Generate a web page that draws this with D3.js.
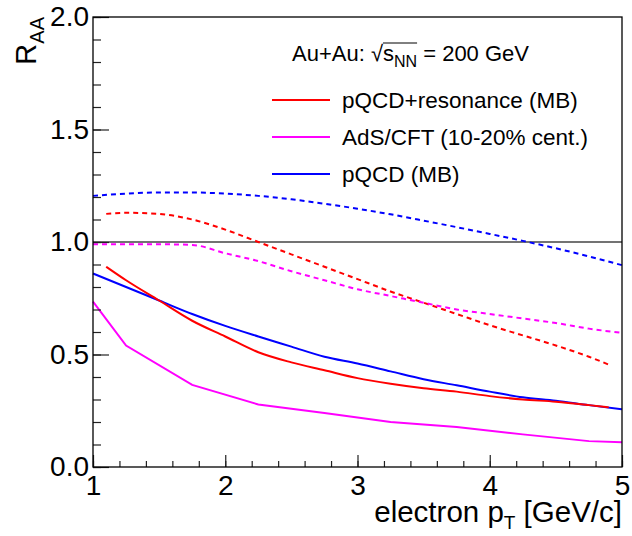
<!DOCTYPE html>
<html>
<head>
<meta charset="utf-8">
<script src="https://cdn.jsdelivr.net/npm/d3@7"></script>
<style>
  html, body { margin: 0; padding: 0; background: #fff; overflow: hidden; }
  svg { display: block; font-family: "Liberation Sans", Arial, sans-serif; }
</style>
</head>
<body>
<div id="chart"></div>
<script>
// Data
const ptGrid = [1, 1.25, 1.5, 1.75, 2, 2.25, 2.5, 2.75, 3, 3.25, 3.5, 3.75, 4, 4.25, 4.5, 4.75, 5];
const ptRes = [1.1, 1.25, 1.5, 1.75, 2, 2.25, 2.5, 2.75, 3, 3.25, 3.5, 3.75, 4, 4.25, 4.5, 4.75, 4.9];
const ptAds = [1, 1.25, 1.75, 2.25, 2.75, 3.25, 3.75, 4.25, 4.75, 5];

const resSolid = [0.89, 0.83, 0.74, 0.65, 0.58, 0.51, 0.465, 0.43, 0.395, 0.37, 0.35, 0.335, 0.315, 0.30, 0.29, 0.275, 0.265];
const resDashed = [1.125, 1.13, 1.125, 1.10, 1.055, 1.0, 0.945, 0.89, 0.835, 0.78, 0.73, 0.68, 0.63, 0.585, 0.54, 0.49, 0.455];
const adsSolid = [0.735, 0.54, 0.365, 0.278, 0.24, 0.20, 0.178, 0.145, 0.115, 0.11];
const adsDashed = [0.99, 0.99, 0.99, 0.987, 0.95, 0.915, 0.87, 0.83, 0.79, 0.76, 0.73, 0.70, 0.68, 0.66, 0.64, 0.615, 0.596];
const pqcdSolid = [0.86, 0.80, 0.74, 0.68, 0.627, 0.58, 0.535, 0.49, 0.46, 0.425, 0.39, 0.363, 0.335, 0.31, 0.295, 0.275, 0.257];
const pqcdDashed = [1.205, 1.215, 1.22, 1.22, 1.215, 1.205, 1.19, 1.17, 1.148, 1.123, 1.095, 1.066, 1.036, 1.005, 0.972, 0.936, 0.897];

const legendLabels = ["pQCD+resonance (MB)", "AdS/CFT (10-20% cent.)", "pQCD (MB)"];
const xTicks = [1, 2, 3, 4, 5];
const yTicks = [0, 0.5, 1, 1.5, 2];

// ------ Drawing area ------- //
const width = 632;
const height = 536;
const margin = {top: 17, right: 10, bottom: 69, left: 93};
const innerWidth = width - margin.left - margin.right;
const innerHeight = height - margin.top - margin.bottom;

const svg = d3.select("#chart")
  .append("svg")
  .attr("width", width)
  .attr("height", height);
const inner = svg.append("g")
  .attr("transform", `translate(${margin.left}, ${margin.top})`);

// ------ Scales ------- //
const xScale = d3.scaleLinear().domain([1, 5]).range([0, innerWidth]);
const yScale = d3.scaleLinear().domain([0, 2]).range([innerHeight, 0]);

const red = "#ff0000";
const magenta = "#ff00ff";
const blue = "#0000ff";

// Reference line at R_AA = 1
inner.append("line")
  .attr("x1", 0).attr("x2", innerWidth)
  .attr("y1", yScale(1)).attr("y2", yScale(1))
  .attr("stroke", "#444")
  .attr("stroke-width", 1.3);

// ------ Curves ------- //
const curves = [
  {x: ptGrid, y: pqcdDashed, color: blue, dash: "5,4", curve: d3.curveMonotoneX},
  {x: ptRes, y: resDashed, color: red, dash: "5,4", curve: d3.curveMonotoneX},
  {x: ptGrid, y: adsDashed, color: magenta, dash: "5,4", curve: d3.curveMonotoneX},
  {x: ptGrid, y: pqcdSolid, color: blue, dash: null, curve: d3.curveMonotoneX},
  {x: ptRes, y: resSolid, color: red, dash: null, curve: d3.curveMonotoneX},
  {x: ptAds, y: adsSolid, color: magenta, dash: null, curve: d3.curveLinear}
];

curves.forEach(c => {
  const pts = c.x.map((v, i) => [v, c.y[i]]);
  const line = d3.line()
    .x(d => xScale(d[0]))
    .y(d => yScale(d[1]))
    .curve(c.curve);
  inner.append("path")
    .attr("d", line(pts))
    .attr("fill", "none")
    .attr("stroke", c.color)
    .attr("stroke-width", 2)
    .attr("stroke-dasharray", c.dash);
});

// ------ Axes (ROOT style, ticks inside) ------- //
const leftMajor = d3.axisLeft(yScale).tickValues(yTicks).tickSize(-16).tickPadding(4)
  .tickFormat(d3.format(".1f"));
const leftMinor = d3.axisLeft(yScale).tickValues(d3.range(0, 2.001, 0.1)).tickSize(-8);
const bottomMajor = d3.axisBottom(xScale).tickValues(xTicks).tickSize(-12).tickPadding(8)
  .tickFormat(d3.format("d"));
const bottomMinor = d3.axisBottom(xScale).tickValues(d3.range(1, 5.001, 0.2)).tickSize(-6);

inner.append("g").attr("class", "axis minor").call(leftMinor);
inner.append("g").attr("class", "axis").call(leftMajor);
inner.append("g").attr("class", "axis minor").attr("transform", `translate(0, ${innerHeight})`).call(bottomMinor);
inner.append("g").attr("class", "axis").attr("transform", `translate(0, ${innerHeight})`).call(bottomMajor);

inner.selectAll(".axis path").remove();
inner.selectAll(".minor text").remove();
inner.selectAll(".axis line").attr("stroke", "#222").attr("stroke-width", 1.2);
inner.selectAll(".axis text")
  .attr("fill", "#000")
  .style("font-family", "'Liberation Sans', Arial, sans-serif")
  .style("font-size", "28px");

// Frame
inner.append("rect")
  .attr("x", 0).attr("y", 0)
  .attr("width", innerWidth).attr("height", innerHeight)
  .attr("fill", "none")
  .attr("stroke", "#000")
  .attr("stroke-width", 1.3);

// ------ Axis titles ------- //
const yTitle = svg.append("text")
  .attr("transform", "translate(36, 17) rotate(-90)")
  .attr("text-anchor", "end")
  .style("font-size", "29px");
yTitle.append("tspan").text("R");
yTitle.append("tspan").text("AA").attr("dy", 8).style("font-size", "20px");

const xTitle = svg.append("text")
  .attr("x", margin.left + innerWidth)
  .attr("y", 522)
  .attr("text-anchor", "end")
  .style("font-size", "29.5px");
xTitle.append("tspan").text("electron p");
xTitle.append("tspan").text("T").attr("dy", 7).style("font-size", "19px");
xTitle.append("tspan").text(" [GeV/c]").attr("dy", -7);

// ------ Legend ------- //
const header = svg.append("text")
  .attr("x", 292)
  .attr("y", 61)
  .style("font-size", "22px");
header.append("tspan").text("Au+Au: ");
header.append("tspan").text("\u221A");
const sPart = header.append("tspan").text("s");
const nnPart = header.append("tspan").text("NN").attr("dy", 6).style("font-size", "16px");
header.append("tspan").text(" = 200 GeV").attr("dy", -6);

// overline of the square root
const sBox = sPart.node().getBBox();
const nnBox = nnPart.node().getBBox();
svg.append("line")
  .attr("x1", sBox.x).attr("x2", nnBox.x + nnBox.width)
  .attr("y1", sBox.y + 2).attr("y2", sBox.y + 2)
  .attr("stroke", "#000")
  .attr("stroke-width", 1);

const legendColors = [red, magenta, blue];
const legendY = [100, 137, 174];
legendLabels.forEach((label, i) => {
  svg.append("line")
    .attr("x1", 272).attr("x2", 330)
    .attr("y1", legendY[i]).attr("y2", legendY[i])
    .attr("stroke", legendColors[i])
    .attr("stroke-width", 2);
  svg.append("text")
    .text(label)
    .attr("x", 342)
    .attr("y", legendY[i])
    .attr("dy", "0.35em")
    .style("font-size", "22.5px");
});
</script>
</body>
</html>
